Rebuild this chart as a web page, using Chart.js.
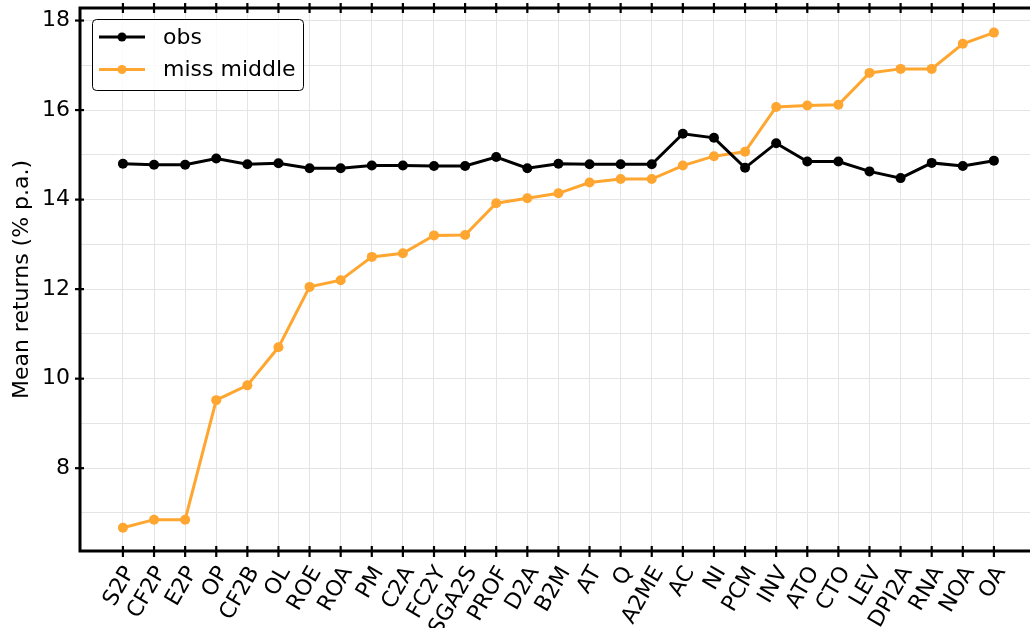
<!DOCTYPE html>
<html>
<head>
<meta charset="utf-8">
<script src="https://cdn.jsdelivr.net/npm/chart.js@4.4.0/dist/chart.umd.min.js"></script>
<style>
  html, body { margin: 0; padding: 0; background: #fff; overflow: hidden; }
  #wrap { width: 1030px; height: 628px; }
</style>
</head>
<body>
<div id="wrap"><canvas id="chart" width="1030" height="628"></canvas></div>
<script>
// factor names along the x axis
const factors = ["S2P", "CF2P", "E2P", "OP", "CF2B", "OL", "ROE", "ROA", "PM", "C2A",
  "FC2Y", "SGA2S", "PROF", "D2A", "B2M", "AT", "Q", "A2ME", "AC", "NI",
  "PCM", "INV", "ATO", "CTO", "LEV", "DPI2A", "RNA", "NOA", "OA"];

// mean returns, % p.a.
const obsValues = [14.80, 14.78, 14.78, 14.92, 14.79, 14.81, 14.70, 14.70, 14.76, 14.76,
  14.75, 14.75, 14.95, 14.70, 14.80, 14.79, 14.79, 14.79, 15.47, 15.38,
  14.71, 15.26, 14.85, 14.85, 14.63, 14.48, 14.82, 14.75, 14.87];
const missMiddleValues = [6.67, 6.85, 6.85, 9.52, 9.85, 10.70, 12.05, 12.20, 12.72, 12.80,
  13.20, 13.21, 13.92, 14.03, 14.14, 14.38, 14.46, 14.46, 14.76, 14.97,
  15.07, 16.07, 16.10, 16.12, 16.83, 16.92, 16.92, 17.48, 17.73];

const yTickLabels = [8, 10, 12, 14, 16, 18];
const yGridValues = [7, 8, 9, 10, 11, 12, 13, 14, 15, 16, 17, 18];

const FONT = "'DejaVu Sans', 'Liberation Sans', sans-serif";
const ORANGE = "#ffa630";

function toPoints(values) {
  return values.map((v, i) => ({ x: i, y: v }));
}

// spines and inout tick marks, matplotlib style
const framePlugin = {
  id: "frame",
  afterDraw(chart) {
    const ctx = chart.ctx;
    const area = chart.chartArea;
    const xs = chart.scales.x;
    const ys = chart.scales.y;
    ctx.save();
    ctx.strokeStyle = "#000";
    ctx.lineCap = "butt";

    ctx.lineWidth = 2.2;
    xs.ticks.forEach((t) => {
      const px = xs.getPixelForValue(t.value);
      ctx.beginPath();
      ctx.moveTo(px, area.bottom - 5);
      ctx.lineTo(px, area.bottom + 6);
      ctx.moveTo(px, area.top - 5);
      ctx.lineTo(px, area.top + 5);
      ctx.stroke();
    });
    yTickLabels.forEach((v) => {
      const py = ys.getPixelForValue(v);
      ctx.beginPath();
      ctx.moveTo(area.left - 5, py);
      ctx.lineTo(area.left + 4, py);
      ctx.stroke();
    });

    ctx.lineWidth = 3;
    ctx.beginPath();
    ctx.moveTo(area.left, area.top);
    ctx.lineTo(chart.width, area.top);
    ctx.moveTo(area.left, area.top - 1.5);
    ctx.lineTo(area.left, area.bottom + 1.5);
    ctx.moveTo(area.left, area.bottom);
    ctx.lineTo(chart.width, area.bottom);
    ctx.stroke();
    ctx.restore();
  }
};

// legend box in the upper left, line + marker samples
const legendPlugin = {
  id: "boxLegend",
  afterDraw(chart) {
    const ctx = chart.ctx;
    const x0 = 92, y0 = 19, w = 211, h = 71, r = 4;
    ctx.save();
    ctx.beginPath();
    ctx.roundRect(x0 + 0.5, y0 + 0.5, w, h, r);
    ctx.fillStyle = "rgba(255,255,255,0.85)";
    ctx.fill();
    ctx.strokeStyle = "#000";
    ctx.lineWidth = 1;
    ctx.stroke();

    ctx.font = "22px " + FONT;
    ctx.textBaseline = "middle";
    chart.data.datasets.forEach((ds, i) => {
      const cy = y0 + 18 + i * 32.5;
      ctx.strokeStyle = ds.borderColor;
      ctx.lineWidth = 3;
      ctx.beginPath();
      ctx.moveTo(99, cy);
      ctx.lineTo(145, cy);
      ctx.stroke();
      ctx.fillStyle = ds.borderColor;
      ctx.beginPath();
      ctx.arc(122, cy, 4.5, 0, Math.PI * 2);
      ctx.fill();
      ctx.fillStyle = "#000";
      ctx.fillText(ds.label, 163, cy + 1);
    });
    ctx.restore();
  }
};

new Chart(document.getElementById("chart"), {
  type: "line",
  data: {
    datasets: [
      {
        label: "obs",
        data: toPoints(obsValues),
        borderColor: "#000",
        backgroundColor: "#000",
        borderWidth: 3,
        pointRadius: 5,
        pointBorderWidth: 0,
        pointBackgroundColor: "#000",
        tension: 0
      },
      {
        label: "miss middle",
        data: toPoints(missMiddleValues),
        borderColor: ORANGE,
        backgroundColor: ORANGE,
        borderWidth: 3,
        pointRadius: 5,
        pointBorderWidth: 0,
        pointBackgroundColor: ORANGE,
        tension: 0
      }
    ]
  },
  options: {
    responsive: false,
    animation: false,
    layout: { autoPadding: false, padding: { top: 8, right: 0, left: 0, bottom: 0 } },
    plugins: {
      legend: { display: false },
      tooltip: { enabled: false }
    },
    scales: {
      x: {
        type: "linear",
        min: -1.38,
        max: 29.16,
        afterBuildTicks: (scale) => {
          scale.ticks = factors.map((_, i) => ({ value: i }));
        },
        afterFit: (scale) => {
          scale.height = 77;
          scale.paddingLeft = 0;
          scale.paddingRight = 0;
        },
        grid: { color: "#e4e4e4", lineWidth: 1, drawTicks: false },
        border: { display: false },
        ticks: {
          autoSkip: false,
          minRotation: 60,
          maxRotation: 60,
          padding: 11,
          labelOffset: 7,
          color: "#000",
          font: { family: FONT, size: 22 },
          callback: (value) => factors[value] || ""
        }
      },
      y: {
        min: 6.15,
        max: 18.28,
        afterBuildTicks: (scale) => {
          scale.ticks = yGridValues.map((v) => ({ value: v }));
        },
        afterFit: (scale) => {
          scale.width = 80;
          scale.paddingTop = 0;
          scale.paddingBottom = 0;
        },
        grid: { color: "#e4e4e4", lineWidth: 1, drawTicks: false },
        border: { display: false },
        ticks: {
          padding: 10,
          color: "#000",
          font: { family: FONT, size: 22 },
          callback: (value) => (yTickLabels.includes(value) ? String(value) : "")
        },
        title: {
          display: true,
          text: "Mean returns (% p.a.)",
          color: "#000",
          font: { family: FONT, size: 22 },
          padding: { top: 9, bottom: 0 }
        }
      }
    }
  },
  plugins: [framePlugin, legendPlugin]
});
</script>
</body>
</html>
